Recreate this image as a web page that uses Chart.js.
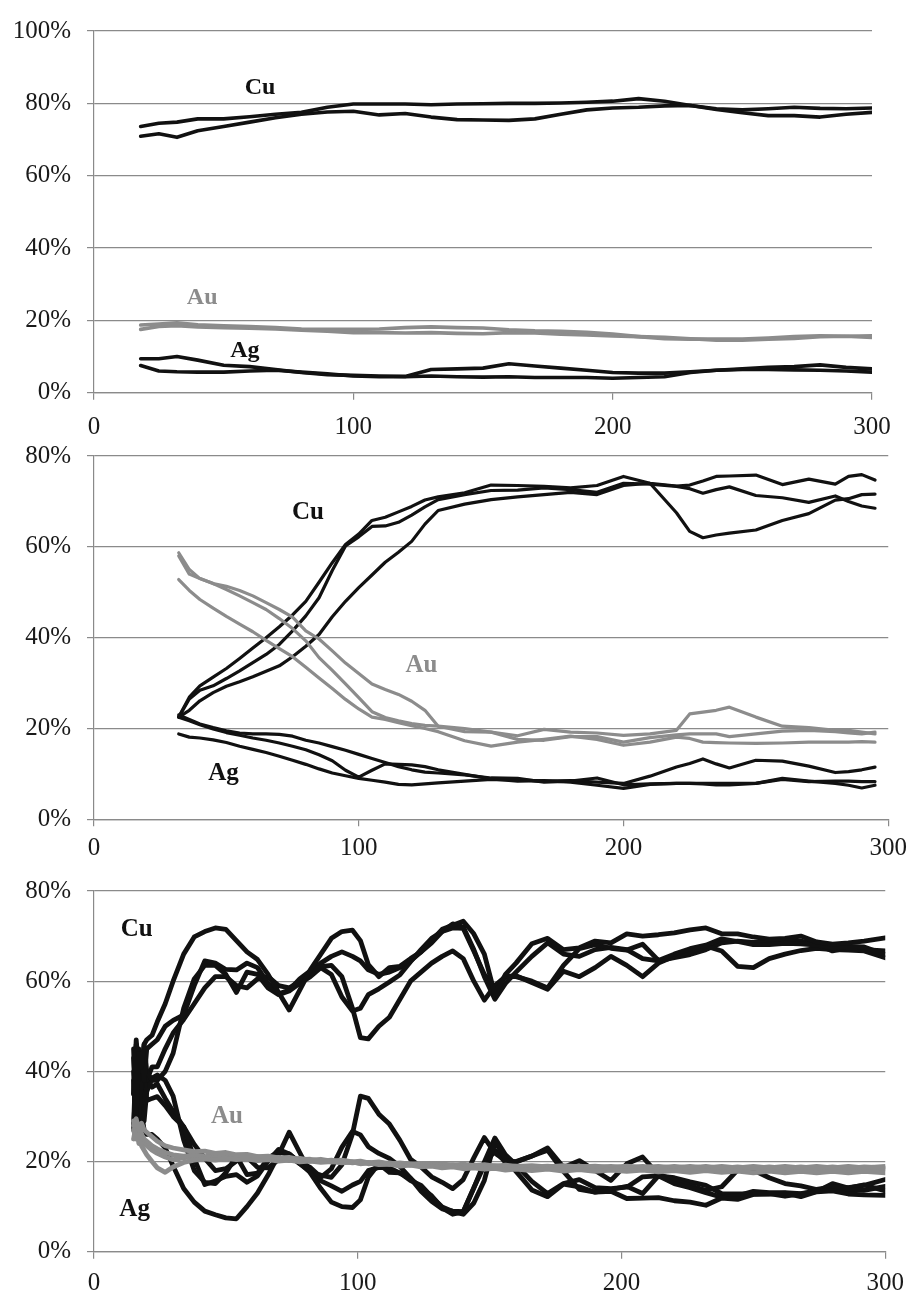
<!DOCTYPE html>
<html><head><meta charset="utf-8">
<script src="https://cdn.jsdelivr.net/npm/chart.js@4.4.0/dist/chart.umd.min.js"></script>
<style>
html,body{margin:0;padding:0;background:#fff;}
#wrap{position:relative;width:914px;height:1293px;overflow:hidden;background:#fff;}
canvas{position:absolute;left:0;}
</style></head><body>
<div id="wrap">
<canvas id="c1" width="914" height="440" style="top:0px"></canvas>
<canvas id="c2" width="914" height="445" style="top:425px"></canvas>
<canvas id="c3" width="914" height="433" style="top:860px"></canvas>
</div>
<script>
// ---------- Panel 1 ----------
const p1X = [18,25,32,40,50,60,70,80,90,100,110,120,130,140,150,160,170,180,190,200,210,220,230,240,250,260,270,280,290,300];
const p1Cu1 = [73.6,74.5,74.8,75.7,75.7,76.3,77,77.5,78.9,79.8,79.8,79.8,79.6,79.8,79.9,80,80,80.1,80.3,80.6,81.3,80.6,79.4,78.3,77.4,76.6,76.6,76.2,77,77.5];
const p1Cu2 = [70.9,71.6,70.6,72.4,73.6,74.8,76,77,77.6,77.8,76.8,77.2,76.2,75.5,75.4,75.3,75.7,77,78.2,78.7,78.9,79.3,79.4,78.5,78.2,78.5,78.9,78.6,78.5,78.7];
const p1Au1 = [18.7,19,19.3,18.8,18.5,18.3,18,17.6,17.5,17.5,17.6,18,18.2,18,17.9,17.4,17.1,17,16.7,16.2,15.5,14.9,14.8,14.8,14.8,15.1,15.5,15.7,15.6,15.7];
const p1Au2 = [17.5,18.3,18.5,18.2,18,17.8,17.6,17.3,17,16.6,16.6,16.5,16.6,16.4,16.3,16.6,16.5,16.2,16,15.7,15.5,15.3,14.9,14.5,14.5,14.8,15,15.5,15.6,15.3];
const p1Ag1 = [9.4,9.4,10,9,7.6,7.2,6.4,5.6,5,4.8,4.6,4.5,6.4,6.6,6.8,8,7.4,6.8,6.2,5.6,5.4,5.4,5.8,6.2,6.6,7,7.2,7.7,7,6.6];
const p1Ag2 = [7.5,6,5.8,5.7,5.7,6,6.2,5.7,5.2,4.6,4.4,4.4,4.6,4.4,4.3,4.4,4.2,4.2,4.2,4,4.2,4.4,5.6,6.2,6.4,6.4,6.3,6.2,6,5.7];

// ---------- Panel 2 ----------
const p2X = [32,36,40,45,50,55,60,65,70,75,80,85,90,95,100,105,110,115,120,125,130,140,150,160,170,180,190,200,210,220,225,230,235,240,250,260,270,280,285,290,295];
const p2Cu1 = [22.5,26.9,29.4,31.3,33.2,35.4,37.7,40,42.4,45,48,52.2,56.5,60.5,62.8,65.8,66.5,67.7,68.9,70.3,71,71.9,73.6,73.5,73.3,73,73.5,75.5,74,73.4,73.6,74.5,75.5,75.6,75.8,73.7,74.9,73.8,75.5,75.9,74.7];
const p2Cu2 = [22.5,26.5,28.4,29.4,31,32.7,34.5,36.3,38.5,41.5,44.8,48.8,54.8,60.2,62.2,64.5,64.6,65.4,67,68.8,70.4,71.5,72.4,72.5,73,72.6,72,74,73.8,73.3,72.8,71.8,72.6,73.2,71.3,70.8,69.8,71.2,70,69,68.5];
const p2Cu3 = [22.5,24,26.1,27.9,29.3,30.3,31.4,32.6,33.8,35.8,38.1,40.7,44.6,48,51,53.8,56.6,58.8,61.2,65,68,69.4,70.4,71,71.5,72,71.5,73.5,74,67.5,63.4,62,62.6,63,63.7,65.8,67.3,70.3,70.6,71.5,71.6];
const p2Au1 = [58.7,55,53,51.9,51.3,50.4,49.2,47.7,46.2,44.5,41.5,39.7,37.1,34.4,32.1,29.8,28.6,27.5,26,24,20.5,19.3,19.2,17.6,17.4,18.2,18.2,17,18,18.6,18.8,18.8,18.8,18.2,18.8,19.4,19.6,19.3,19,18.8,19.2];
const p2Au2 = [58,54,53,51.9,50.6,49.2,47.7,46.2,44.2,42,39.3,35.6,32.8,29.8,26.8,23.7,22.4,21.7,21.1,20.7,20.5,20,19.2,18.4,19.8,19.2,19,18.5,18.8,19.6,23.2,23.6,24,24.7,22.5,20.5,20.2,19.6,19.6,19.2,18.8];
const p2Au3 = [52.8,50.4,48.4,46.5,44.7,43,41.3,39.4,37.6,35.8,33.5,31.1,28.8,26.4,24.3,22.5,22,21.3,20.6,20,19.3,17.3,16.1,17,17.6,18.3,17.6,16.3,17,18.1,17.8,17,16.9,16.8,16.7,16.8,17,17,17,17.1,17];
const p2Ag1 = [23,22,21,20.2,19.5,19,18.8,18.8,18.7,18.3,17.4,16.8,16,15.2,14.3,13.4,12.5,11.6,10.9,10.4,10.2,9.8,9.1,9,8.2,8.4,9.1,7.6,7.8,7.9,7.9,7.9,7.9,7.9,7.9,9,8.4,7.9,7.5,6.9,7.5];
const p2Ag2 = [22.5,21.7,20.8,19.9,19.1,18.5,17.9,17.4,16.8,16.1,15.3,14.2,12.9,10.8,9.3,10.8,12.2,12.1,12,11.6,10.9,9.9,8.9,8.4,8.5,8.2,7.5,6.8,7.7,7.9,7.9,7.8,7.6,7.6,7.9,8.8,8.3,8.4,8.4,8.3,8.3];
const p2Ag3 = [18.8,18.1,17.9,17.5,16.9,16.1,15.4,14.7,13.9,13,12.1,11.1,10.2,9.6,9,8.6,8.2,7.7,7.6,7.8,8,8.4,8.8,8.7,8.4,8.5,8.2,7.9,9.5,11.5,12.3,13.3,12.2,11.3,13,12.8,11.7,10.3,10.5,10.9,11.5];

// ---------- Panel 3 ----------
const p3X = [15,16,17,18,19,20,22,24,27,30,34,38,42,46,50,54,58,62,66,70,74,78,82,86,90,94,98,101,104,108,112,116,120,124,128,132,136,140,144,148,152,156,160,166,172,178,184,190,196,202,208,214,220,226,232,238,244,250,256,262,268,274,280,286,292,300];
const p3Cu1 = [45,30,44,41,46,47,48,51,55,60,66,69.8,71,71.8,71.5,69,66.5,64.8,61.5,57.5,53.6,58,62.5,66,69.5,71,71.3,69,63.7,61,63,63.3,65,66.5,69,71.5,72.4,73.3,70.5,66,57,61.5,64,68.3,69.5,67,67.4,68.9,68.5,70.5,70,70.3,70.7,71.4,71.8,70.5,70.5,69.8,69.3,69.5,70,68.7,68.2,68.5,68.9,69.6];
const p3Cu2 = [35,47,40,44,38,45,46,47,50,51.3,52.5,59,64.5,64,62.6,62.5,64,63,59.5,57.2,58,60.5,62.3,63.2,63.5,61,54,47.5,47.2,50,52,56,60,62,64,65.5,66.7,65,60,55.8,59,61,61,60,58.5,63.5,67.2,68.1,67.3,66.9,68.2,64.6,66,67.2,68,69.4,68.8,68.1,68.1,68.4,68.3,68,67.4,67.7,67.6,65.9];
const p3Cu3 = [28,44,30,38,46,40,38,38,40,44,54,60.5,63.5,63.5,61.5,57.5,62,61.5,58.5,57,57.8,59.5,61,63,61.5,56.5,53.4,54,57,58.3,59.8,61.4,64.3,67,69.5,71,71.8,71.7,66.7,61.5,58.5,61,61.2,59.7,58.2,62.2,61,63,65.5,63.5,61,64,65.5,66.5,67.8,66.7,63.3,63,65,66,66.8,67.3,67,66.9,66.7,65.2];
const p3Cu4 = [40,26,45,36,42,38,41,41,45,48.5,51.5,55,58.5,61,61,59,58.5,60.5,61,59,58.5,60,62,64,65.5,66.5,65.5,64.5,62.5,61.5,62,63,64.5,66.5,68.5,71,72.7,72,67,61,56,59.5,62,65.5,68.5,66,65.5,67,67.5,67,65,64.5,65.2,65.9,67,68.5,68.9,68.6,68.8,69.2,68.9,68.2,66.7,67.4,67,66.7];
const p3Au1 = [28,29.5,27,28.5,27,26.5,25.5,24.5,23.5,23,22.6,22.2,22.3,21.8,22,21.5,21.6,21.1,21.2,20.8,20.9,20.4,20.5,20.1,20.3,19.8,19.9,19.5,19.7,19.3,19.4,19,19.2,18.8,19,18.6,18.8,18.4,18.6,18.3,18.5,18.1,18.3,18,18.3,17.9,18.2,17.8,18.1,17.8,18.1,17.7,18,17.6,18,17.6,17.9,17.5,17.9,17.5,17.8,17.5,17.8,17.5,17.8,17.5];
const p3Au2 = [27,25,26,23.5,22.5,21.5,20,18.6,17.6,18.8,19.8,20.3,20.6,20.3,20.7,20.4,20.6,20.2,20.4,20.1,20.3,19.9,20.1,19.8,20,19.7,19.9,19.6,19.8,19.5,19.7,19.3,19.5,19.2,19.4,19.1,19.3,19,19.2,18.9,19.1,18.8,19,18.8,19,18.7,19,18.7,18.9,18.6,18.9,18.6,18.9,18.6,18.9,18.5,18.8,18.5,18.8,18.5,18.8,18.5,18.8,18.5,18.8,18.6];
const p3Au3 = [29,26,28,26,25,24.5,23.5,22.8,22,21.5,21.2,21.5,21.1,21.4,21,21.3,20.9,21.1,20.7,20.9,20.5,20.7,20.3,20.5,20.1,20.3,19.9,20.1,19.7,19.9,19.5,19.7,19.4,19.6,19.3,19.5,19.2,19.4,19.1,19.3,19,19.2,18.9,19.1,18.8,19.1,18.8,19,18.7,19,18.7,18.9,18.6,18.9,18.6,18.9,18.6,18.9,18.6,18.9,18.6,18.9,18.6,18.9,18.6,18.9];
const p3Au4 = [25,28,24,26,24,23.5,22.5,21.8,21,20.4,20.8,21.2,20.8,21,20.6,20.9,20.5,20.8,20.4,20.6,20.2,20.5,20.1,20.3,19.9,20.1,19.7,19.9,19.5,19.8,19.4,19.6,19.2,19.4,19.1,19.3,19,19.2,18.9,19.1,18.8,19,18.7,18.9,18.6,18.9,18.5,18.8,18.5,18.7,18.4,18.7,18.4,18.6,18.3,18.6,18.3,18.6,18.3,18.5,18.3,18.5,18.2,18.5,18.2,18.4];
const p3Ag1 = [27,40,29,31,27,26,26,25,23,19,14,11,9,8.2,7.5,7.3,10,13,17,21.5,26.5,22,17.5,14,11,10,9.8,11.5,16.5,19.5,17.6,17.5,15.8,14.7,12.2,9.9,8.9,8.3,10.8,15.8,24.5,20.5,17.8,13.7,12.2,15,14.4,13.2,13.4,11.8,11.9,12,11.3,11,10.3,11.9,11.6,12.7,12.8,13,12.2,13.3,13.5,12.8,12.6,12.5];
const p3Ag2 = [38,28,34,32.5,39.5,33.5,34,34.4,32.4,30,27.7,20.7,14.9,15.7,16.7,17.1,15.4,16.8,20.1,22.7,21.7,19.6,17.6,17,16.5,19.3,26.1,34.5,34,30.5,28.3,24.7,20.5,18.8,16.6,15.4,14,16,20.8,25.3,21.9,20.2,20,21.2,22.5,17.8,13.8,13.2,13.8,14.5,12.9,16.8,15.1,14.2,13.1,12.1,12.4,13.4,13.1,13.1,12.9,13.5,13.8,13.8,13.6,14.5];
const p3Ag3 = [43,30,42,36,29,35.5,38.5,39.2,38,34.5,24.8,18,15.4,15.1,17.5,21.2,17.1,17.4,20.8,22.1,21.7,19.8,18.7,16.5,18.4,23.2,26.7,25.9,23.3,21.8,20.7,18.9,16.3,13.4,11.2,9.5,9,8.9,14.2,19.2,22.5,19.8,19.9,21.2,23,18.7,20.2,18,15.8,19.5,21,17.1,15.9,14.6,13.6,14.4,18.1,18.1,16.4,15.1,14.6,13.8,14.4,14.2,14.7,16];
const p3Ag4 = [35,46,31,38,34,38.5,36.5,37.2,34,31.1,27.7,23.8,20.7,18,18.4,20.1,21,18.7,18.6,20.4,21.3,19.5,17.9,15.7,14.6,13.4,14.8,15.6,18,18.7,18.6,17.4,16.3,14.1,12.4,9.7,8.3,8.8,14.1,19.9,25.2,21.5,19.3,15.6,12.9,15.1,16,14.2,14,14.3,16.6,16.8,16.4,15.5,14.7,12.9,12.8,12.8,12.9,12.3,12.8,13.3,15.1,14.1,14.8,13.5];

// ---------- axis ticks & element labels ----------
const xTickValues = [0,100,200,300];
const p1YMax = 100, p2YMax = 80, p3YMax = 80;
const elementNames = ['Cu','Au','Ag'];
// label anchor positions in data units [x, y%]
const p1LabelPos = [[64,84.3],[41.7,26.3],[58.2,11.7]];
const p2LabelPos = [[80.8,67.6],[123.7,33.8],[48.9,10.1]];
const p3LabelPos = [[16.2,71.5],[50.4,30.0],[15.4,9.4]];

// ---------- rendering ----------
const BLACK = '#111111', GRAY = '#8c8c8c', GRID = '#8a8a8a', TEXT = '#1a1a1a';

const labelPlugin = {
  id: 'elemLabels',
  afterDatasetsDraw(chart, args, opts) {
    const ctx = chart.ctx, xs = chart.scales.x, ys = chart.scales.y;
    ctx.save();
    ctx.font = 'bold ' + opts.size + 'px "Liberation Serif", "Times New Roman", serif';
    ctx.textAlign = 'center';
    ctx.textBaseline = 'middle';
    opts.items.forEach(it => {
      ctx.fillStyle = it.color;
      ctx.fillText(it.text, xs.getPixelForValue(it.x), ys.getPixelForValue(it.y));
    });
    ctx.restore();
  }
};

function toPts(xArr, yArr) { return xArr.map((x, i) => ({x: x, y: yArr[i]})); }

function makePanel(id, xArr, cu, au, ag, yMax, lw, lay, labelPos, labelSize) {
  const ds = [];
  au.forEach(a => ds.push({data: toPts(xArr, a), borderColor: GRAY, borderWidth: lw, order: 0}));
  cu.forEach(c => ds.push({data: toPts(xArr, c), borderColor: BLACK, borderWidth: lw, order: 1}));
  ag.forEach(g => ds.push({data: toPts(xArr, g), borderColor: BLACK, borderWidth: lw, order: 1}));
  const colors = [BLACK, GRAY, BLACK];
  const items = elementNames.map((n, i) => ({text: n, x: labelPos[i][0], y: labelPos[i][1], color: colors[i]}));
  new Chart(document.getElementById(id), {
    type: 'line',
    data: {datasets: ds},
    options: {
      responsive: false, animation: false, devicePixelRatio: 1,
      events: [],
      layout: {padding: {top: lay.top, right: lay.right, bottom: 0, left: 0}},
      elements: {point: {radius: 0}, line: {tension: 0, borderJoinStyle: 'round', borderCapStyle: 'round', fill: false}},
      plugins: {legend: {display: false}, tooltip: {enabled: false}, elemLabels: {items: items, size: labelSize}},
      scales: {
        x: {
          type: 'linear', min: 0, max: 300,
          afterFit: s => { s.height = lay.xh; },
          afterBuildTicks: s => { s.ticks = xTickValues.map(v => ({value: v})); },
          grid: {drawOnChartArea: false, drawTicks: true, tickLength: 7, color: GRID, lineWidth: 1.2},
          border: {display: true, color: GRID, width: 1.2},
          ticks: {autoSkip: false, maxRotation: 0, padding: lay.xpad, color: TEXT,
                  font: {family: '"Liberation Serif", "Times New Roman", serif', size: 25}}
        },
        y: {
          min: 0, max: yMax,
          afterFit: s => { s.width = 94; },
          grid: {drawTicks: true, tickLength: 7, color: GRID, lineWidth: 1.2},
          border: {display: true, color: GRID, width: 1.2},
          ticks: {stepSize: 20, padding: 16, color: TEXT, callback: v => v + '%',
                  font: {family: '"Liberation Serif", "Times New Roman", serif', size: 25}}
        }
      }
    },
    plugins: [labelPlugin]
  });
}

makePanel('c1', p1X, [p1Cu1, p1Cu2], [p1Au1, p1Au2], [p1Ag1, p1Ag2], p1YMax, 3.6,
  {top: 27, right: 42, xh: 47.3, xpad: 13}, p1LabelPos, 24);
makePanel('c2', p2X, [p2Cu1, p2Cu2, p2Cu3], [p2Au1, p2Au2, p2Au3], [p2Ag1, p2Ag2, p2Ag3], p2YMax, 3.2,
  {top: 29.3, right: 22, xh: 50.7, xpad: 7}, p2LabelPos, 25);
makePanel('c3', p3X, [p3Cu1, p3Cu2, p3Cu3, p3Cu4], [p3Au1, p3Au2, p3Au3, p3Au4], [p3Ag1, p3Ag2, p3Ag3, p3Ag4], p3YMax, 4.8,
  {top: 27.7, right: 23, xh: 41.3, xpad: 10}, p3LabelPos, 25);
</script>
</body></html>
